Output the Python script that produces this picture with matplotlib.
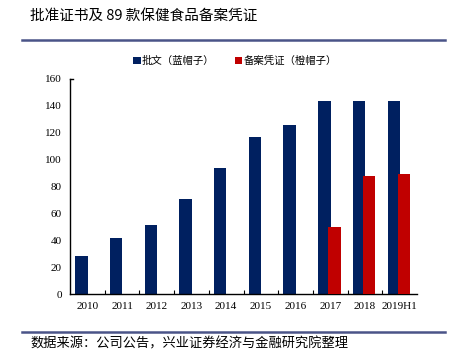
import matplotlib
matplotlib.use("Agg")
import matplotlib.pyplot as plt
from matplotlib.patches import Patch
from matplotlib.lines import Line2D

categories = ["2010", "2011", "2012", "2013", "2014", "2015", "2016", "2017", "2018", "2019H1"]
blue_vals = [28, 42, 51, 71, 94, 117, 126, 144, 144, 144]
red_vals = [None, None, None, None, None, None, None, 50, 88, 89]
yticks = [0, 20, 40, 60, 80, 100, 120, 140, 160]
series_names = ["批文（蓝帽子）", "备案凭证（橙帽子）"]
title = "批准证书及 89 款保健食品备案凭证"
source = "数据来源：公司公告，兴业证券经济与金融研究院整理"

BLUE = "#002060"
RED = "#C00000"
cjk = ["Noto Sans CJK SC", "DejaVu Sans"]
serif = ["Liberation Serif", "DejaVu Serif"]

fig = plt.figure(figsize=(4.51, 3.56), dpi=100)
ax = fig.add_axes([70/451, 1-294/356, (417-70)/451, (294-79)/356])

xs = list(range(len(categories)))
ax.bar([x - 0.17 for x in xs], blue_vals, width=0.36, color=BLUE, zorder=2)
rx = [x + 0.12 for x, v in zip(xs, red_vals) if v is not None]
rv = [v for v in red_vals if v is not None]
ax.bar(rx, rv, width=0.36, color=RED, zorder=3)

ax.set_xlim(-0.5, len(categories) - 0.5)
ax.set_ylim(0, 160)
ax.set_yticks(yticks)
ax.set_yticklabels([str(t) for t in yticks], fontfamily=serif, fontsize=8)
ax.set_xticks(xs)
ax.set_xticklabels(categories, fontfamily=serif, fontsize=8)
ax.tick_params(axis="x", length=0, pad=6)
ax.tick_params(axis="y", length=0, pad=6)
# boundary ticks on x axis
ax.set_xticks([x + 0.5 for x in xs[:-1]], minor=True)
ax.tick_params(axis="x", which="minor", direction="in", length=3, width=0.8)
for s in ["top", "right"]:
    ax.spines[s].set_visible(False)
ax.spines["left"].set_linewidth(1.0)
ax.spines["bottom"].set_linewidth(1.0)

# top short tick on y axis
ax.plot([-0.5, -0.42], [160, 160], color="black", lw=1, clip_on=False)

handles = [Patch(facecolor=BLUE), Patch(facecolor=RED)]
fig.legend(handles, series_names, loc="center", bbox_to_anchor=(235/451, 1-61/356),
           ncol=2, frameon=False, prop={"family": cjk, "size": 7.5},
           handlelength=0.7, handleheight=0.7, handletextpad=0.1, columnspacing=2.0)

fig.text(30/451, 1-16/356, title, fontfamily=cjk, fontsize=10.5, va="center", ha="left")
fig.add_artist(Line2D([22/451, 445/451], [1-40/356, 1-40/356], color="#4a5488", lw=1.8))
fig.add_artist(Line2D([22/451, 445/451], [1-332/356, 1-332/356], color="#4a5488", lw=1.8))
fig.text(30/451, 1-344/356, source, fontfamily=cjk, fontsize=9.5, va="center", ha="left")

fig.savefig("out.png", dpi=100)
